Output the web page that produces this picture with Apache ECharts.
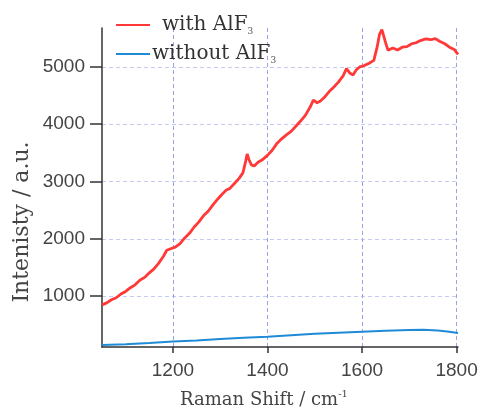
<!DOCTYPE html>
<html>
<head>
<meta charset="utf-8">
<script src="https://cdn.jsdelivr.net/npm/echarts@6/dist/echarts.min.js"></script>
<style>html,body{margin:0;padding:0;background:#fff;}#c{width:481px;height:410px;}</style>
</head>
<body>
<div id="c"></div>
<script>
// Data
const withX = [1050,1060,1070,1080,1090,1100,1110,1120,1130,1140,1150,1160,1170,1180,1187,1195,1205,1215,1225,1235,1245,1255,1265,1275,1285,1295,1305,1313,1320,1330,1340,1348,1353,1357,1361,1366,1372,1380,1390,1400,1410,1420,1430,1440,1450,1460,1470,1480,1490,1497,1505,1512,1520,1530,1540,1550,1560,1567,1574,1581,1588,1595,1605,1615,1625,1632,1637,1642,1646,1650,1655,1665,1675,1685,1695,1705,1715,1725,1735,1745,1755,1765,1775,1785,1795,1803];
const withY = [845,880,935,970,1035,1080,1145,1195,1275,1325,1405,1475,1575,1695,1800,1825,1855,1915,2015,2095,2205,2295,2405,2485,2595,2695,2785,2850,2875,2965,3055,3150,3320,3480,3380,3290,3270,3335,3385,3455,3545,3665,3745,3815,3875,3965,4055,4155,4295,4420,4375,4405,4465,4565,4645,4735,4845,4970,4895,4860,4950,5000,5025,5065,5115,5350,5570,5650,5620,5420,5290,5330,5295,5345,5355,5405,5425,5465,5490,5475,5495,5445,5405,5345,5305,5220];
const withoutX = [1050,1100,1150,1200,1250,1300,1350,1400,1450,1500,1550,1600,1650,1700,1730,1760,1780,1803];
const withoutY = [145,160,180,205,225,250,270,290,315,340,360,378,392,405,410,400,380,355];
const xTicks = [1200,1400,1600,1800];
const yTicks = [1000,2000,3000,4000,5000];
const seriesNames = ['with AlF3','without AlF3'];

const chart = echarts.init(document.getElementById('c'), null, {renderer:'canvas'});
const zip = (xs, ys) => xs.map((x, i) => [x, ys[i]]);
const labelFont = 'Liberation Sans';
const serif = 'DejaVu Serif';
chart.setOption({
  animation: false,
  backgroundColor: '#fff',
  grid: {left: 102, right: 23, top: 28, bottom: 63, containLabel: false},
  legend: {
    orient: 'vertical', left: 111, top: 10, itemWidth: 34, itemHeight: 2, itemGap: 8,
    icon: 'rect',
    data: seriesNames,
    formatter: function (name) {
      return (name === seriesNames[0] ? '{pad|}' : '') + '{n|' + name.slice(0, -1) + '}{s|' + name.slice(-1) + '}';
    },
    textStyle: {
      color: '#333', padding: [0, 0, 0, -3],
      rich: {
        pad: {width: 10},
        n: {fontFamily: serif, fontSize: 20, color: '#333', lineHeight: 22},
        s: {fontFamily: serif, fontSize: 9, color: '#555', verticalAlign: 'bottom', lineHeight: 22}
      }
    }
  },
  xAxis: {
    type: 'value', min: 1050, max: 1803,
    axisLine: {show: true, onZero: false, lineStyle: {color: '#333', width: 1.5}},
    axisTick: {show: true, length: 6, customValues: xTicks, lineStyle: {color: '#333', width: 1.5}},
    axisLabel: {customValues: xTicks, margin: 14, fontFamily: labelFont, fontSize: 19, color: '#444',
                formatter: v => String(v)},
    splitLine: {show: true, lineStyle: {color: '#9aa3e2', type: [4, 3], width: 1}}
  },
  yAxis: {
    type: 'value', min: 110, max: 5680,
    axisLine: {show: true, lineStyle: {color: '#333', width: 1.5}},
    axisTick: {show: true, length: 12, customValues: yTicks, lineStyle: {color: '#333', width: 1.5}},
    axisLabel: {customValues: yTicks, margin: 17, fontFamily: labelFont, fontSize: 19, color: '#444',
                formatter: v => String(v)},
    splitLine: {show: true, lineStyle: {color: '#c3c9f0', type: [4, 3], width: 1}}
  },
  graphic: [
    {type: 'text', x: 22, y: 222, rotation: Math.PI / 2,
     style: {text: 'Intenisty / a.u.', fontFamily: serif, fontSize: 22, fill: '#444', align: 'center', verticalAlign: 'middle'}},
    {type: 'text', x: 264, y: 400,
     style: {text: '{n|Raman Shift / cm}{s|-1}', align: 'center', verticalAlign: 'middle',
       rich: {n: {fontFamily: serif, fontSize: 18, fill: '#444', lineHeight: 22},
              s: {fontFamily: serif, fontSize: 10, fill: '#444', verticalAlign: 'top', lineHeight: 22}}}}
  ],
  series: [
    {name: seriesNames[0], type: 'line', data: zip(withX, withY), symbol: 'none', smooth: false,
     lineStyle: {color: '#ff3838', width: 2.8}, itemStyle: {color: '#ff3838'}},
    {name: seriesNames[1], type: 'line', data: zip(withoutX, withoutY), symbol: 'none',
     lineStyle: {color: '#1f8ad6', width: 2}, itemStyle: {color: '#1f8ad6'}}
  ]
});
</script>
</body>
</html>
